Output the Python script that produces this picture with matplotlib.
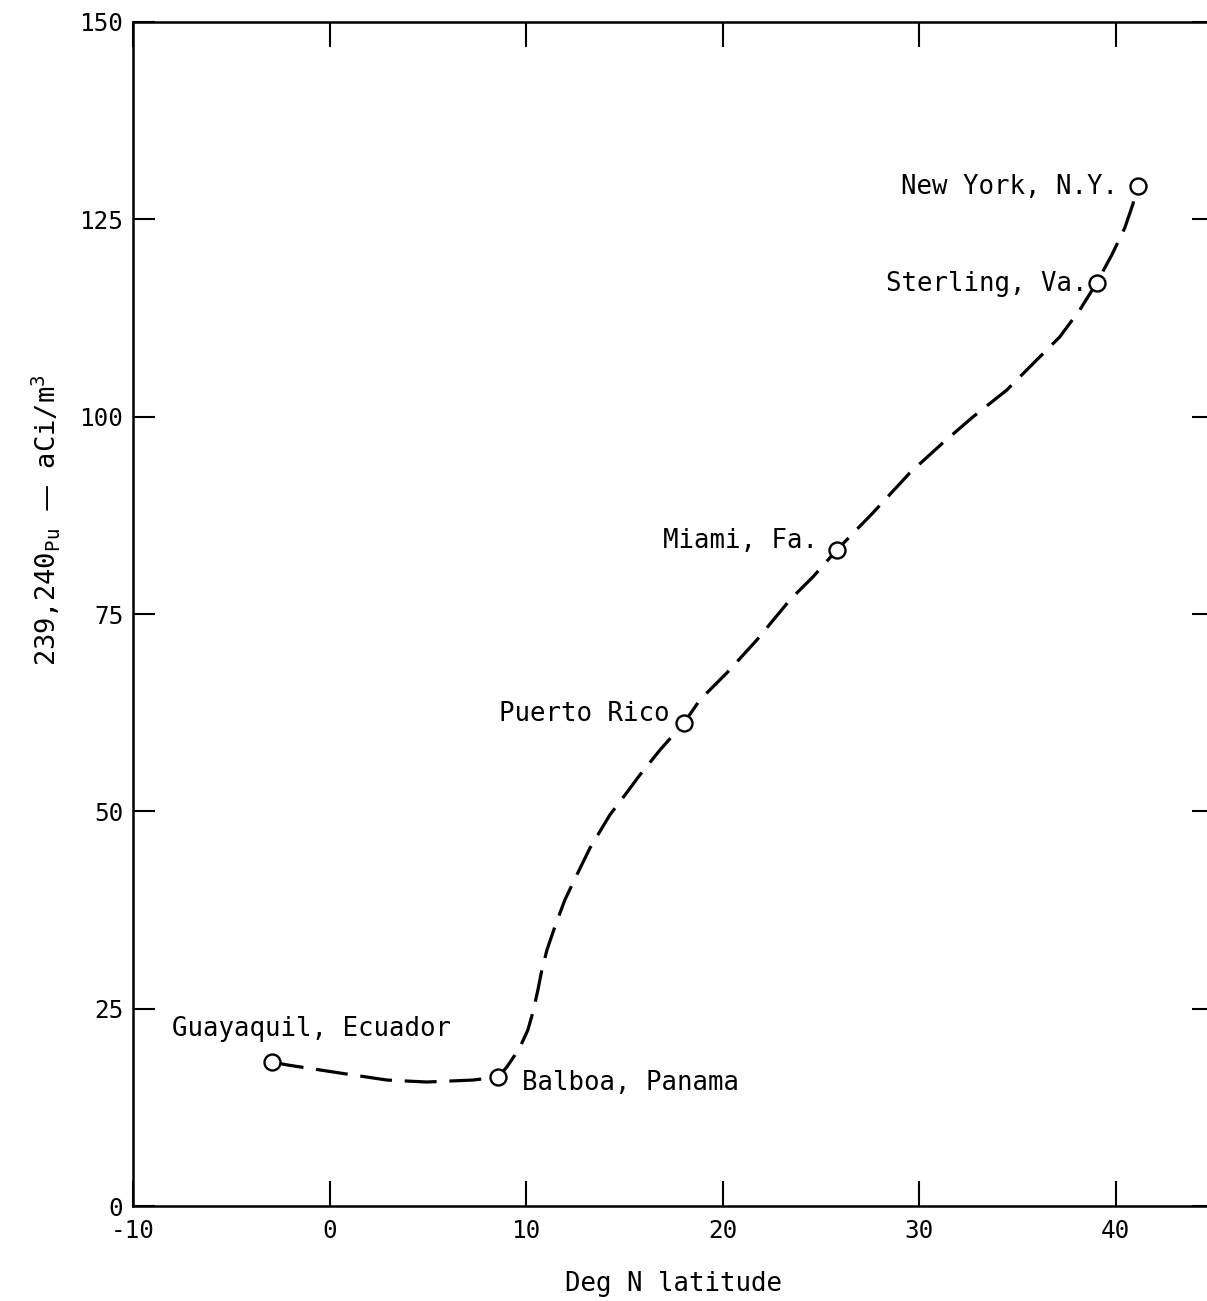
import matplotlib.pyplot as plt

plt.rcParams['font.family'] = ['DejaVu Sans Mono', 'DejaVu Sans']
plt.rcParams['mathtext.default'] = 'regular'
plt.rcParams['axes.unicode_minus'] = False

# sampling sites: latitude (deg N) and 239,240Pu concentration (aCi/m3)
sites = ['Guayaquil, Ecuador', 'Balboa, Panama', 'Puerto Rico',
         'Miami, Fa.', 'Sterling, Va.', 'New York, N.Y.']
lat = [-2.93, 8.57, 18.03, 25.81, 39.03, 41.12]
pu = [18.2, 16.3, 61.2, 83.1, 116.9, 129.2]

# hand drawn dashed trend curve
curve_lat = [-2.93, -2.12, 0.53, 2.92, 4.95, 7.29, 8.57,
             9.02, 9.43, 9.74, 10.09, 10.35, 10.60, 10.80, 11.06, 11.46,
             11.97, 12.58, 13.25, 14.26, 15.03, 15.79, 16.81, 18.03,
             18.84, 20.21, 21.74, 23.42, 24.59, 25.81,
             27.64, 29.52, 31.20, 32.73, 34.46, 35.98, 37.15, 38.17, 39.03,
             39.80, 40.46, 40.86, 41.12]
curve_pu = [18.24, 17.86, 16.85, 15.96, 15.71, 15.96, 16.34,
            17.61, 19.13, 20.40, 22.30, 24.58, 27.37, 29.90, 32.43, 35.35,
            38.77, 41.94, 45.36, 49.54, 52.07, 54.61, 57.77, 61.19,
            64.11, 67.53, 71.71, 76.78, 79.69, 83.11,
            87.80, 92.87, 96.67, 99.96, 103.38, 107.18, 110.10, 113.52, 116.94,
            120.49, 123.91, 126.82, 129.23]

fig = plt.figure(figsize=(12.07, 13.01), dpi=100)
ax = fig.add_axes([0.1102, 0.0730, 0.8956, 0.9101])

ax.plot(curve_lat, curve_pu, color='black', lw=2.3, linestyle=(0, (10, 4)), zorder=2)
ax.plot(lat, pu, 'o', ms=11.5, mfc='white', mec='black', mew=1.7, zorder=3)

# labels next to each site
lab_pos = [(-8.02, 22.4, 'left'), (9.79, 15.6, 'left'), (17.31, 62.3, 'right'),
           (24.84, 84.2, 'right'), (38.58, 116.8, 'right'), (40.10, 129.1, 'right')]
for name, (tx, ty, ha) in zip(sites, lab_pos):
    ax.text(tx, ty, name, ha=ha, va='center', fontsize=18.5)

ax.set_xlim(-10, 45)
ax.set_ylim(0, 150)
ax.set_xticks([-10, 0, 10, 20, 30, 40])
ax.set_yticks([0, 25, 50, 75, 100, 125, 150])
ax.tick_params(direction='in', top=True, right=True, width=1.5, labelsize=17.5)
ax.tick_params(axis='x', length=18, pad=9)
ax.tick_params(axis='y', length=16, pad=7)
for s in ax.spines.values():
    s.set_linewidth(1.8)

ax.set_xlabel('Deg N latitude', fontsize=18.5)
ax.xaxis.set_label_coords(0.5, -0.055)
ax.set_ylabel(r'239,240$_{\mathregular{Pu}}$ — aCi/m$^{\mathregular{3}}$', fontsize=19.5)
ax.yaxis.set_label_coords(-0.066, 0.579)

fig.savefig('out.png', dpi=100)
